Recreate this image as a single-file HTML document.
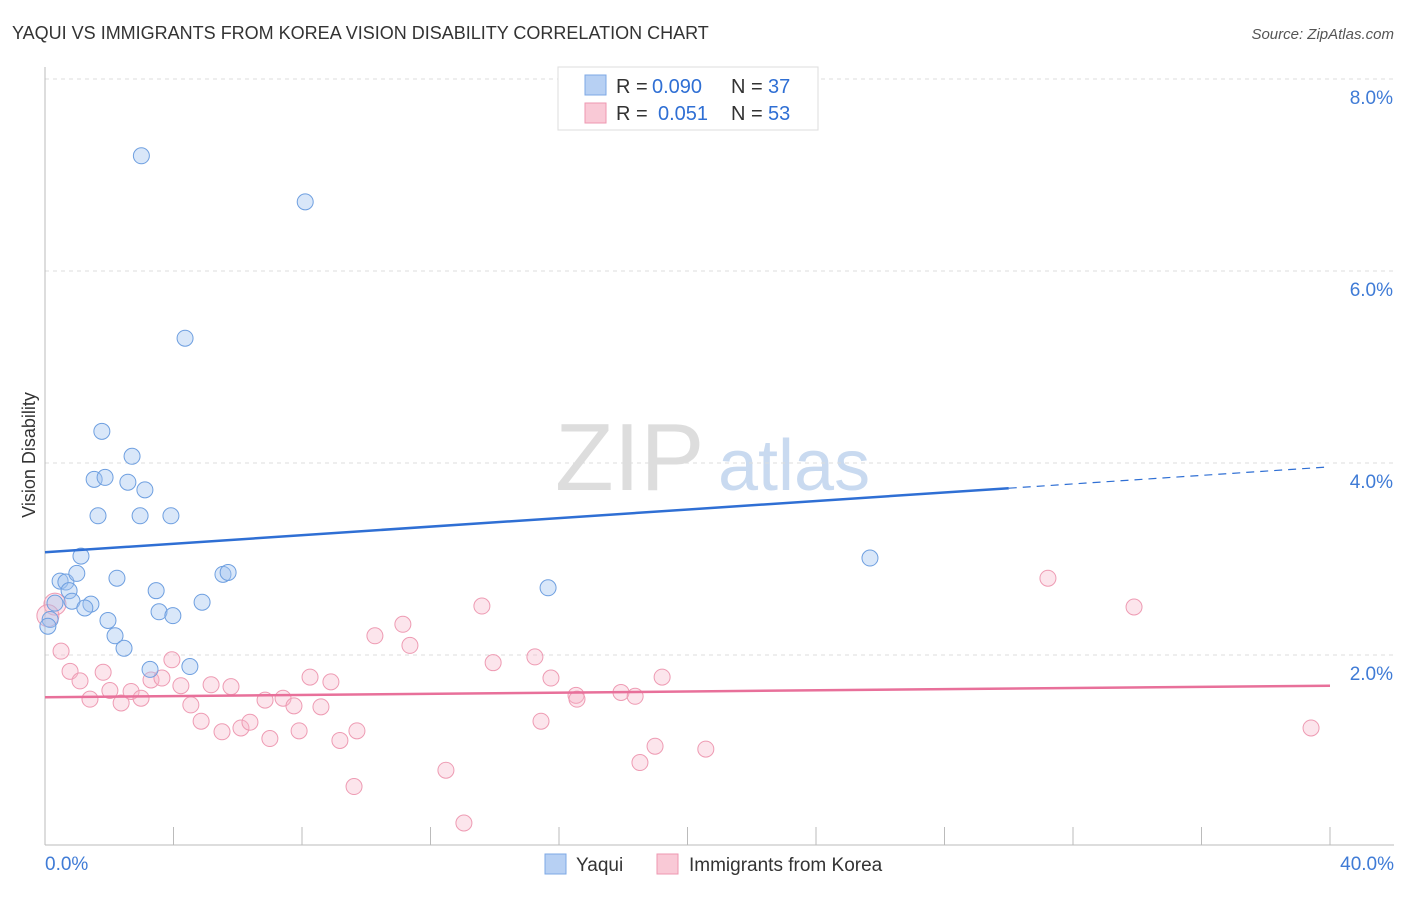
<!DOCTYPE html>
<html><head><meta charset="utf-8"><style>
body{margin:0;background:#fff;font-family:"Liberation Sans",sans-serif;}
svg text{font-family:"Liberation Sans",sans-serif;}
</style></head><body>
<svg id="c" width="1406" height="892" xmlns="http://www.w3.org/2000/svg">
<text x="12" y="39" font-size="18" fill="#333">YAQUI VS IMMIGRANTS FROM KOREA VISION DISABILITY CORRELATION CHART</text>
<text x="1394" y="39" font-size="15" fill="#555" font-style="italic" text-anchor="end">Source: ZipAtlas.com</text>
<text x="35" y="455" font-size="18" fill="#333" transform="rotate(-90 35 455)" text-anchor="middle">Vision Disability</text>
<text x="555" y="490" font-size="96" fill="#ddd" font-family="Liberation Serif">ZIP</text>
<text x="718" y="490" font-size="72" fill="#c9daf0">atlas</text>
<g id="grid"></g><g id="marks"></g>
<g>
<rect x="558" y="67" width="260" height="63" fill="#fff" stroke="#ddd"/>
<rect x="585" y="75" width="21" height="20" fill="#b7d0f3" stroke="#7ea8e6"/>
<rect x="585" y="103" width="21" height="20" fill="#f9c9d6" stroke="#ee97b0"/>
<text x="616" y="93" font-size="20" fill="#333">R =</text>
<text x="652" y="93" font-size="20" fill="#2f6fd4">0.090</text>
<text x="731" y="93" font-size="20" fill="#333">N =</text>
<text x="768" y="93" font-size="20" fill="#2f6fd4">37</text>
<text x="616" y="120" font-size="20" fill="#333">R =</text>
<text x="658" y="120" font-size="20" fill="#2f6fd4">0.051</text>
<text x="731" y="120" font-size="20" fill="#333">N =</text>
<text x="768" y="120" font-size="20" fill="#2f6fd4">53</text>
</g>
<g>
<rect x="545" y="854" width="21" height="20" fill="#b7d0f3" stroke="#7ea8e6"/>
<text x="576" y="871" font-size="19" fill="#333">Yaqui</text>
<rect x="657" y="854" width="21" height="20" fill="#f9c9d6" stroke="#ee97b0"/>
<text x="689" y="871" font-size="19" fill="#333">Immigrants from Korea</text>
</g>
</svg>
<script>
const yTicks=[2,4,6,8];
const xLabels=["0.0%","40.0%"];
const yaquiX=[3.0,8.1,4.36,1.77,2.71,1.53,1.87,2.58,3.11,1.65,2.96,3.92,1.12,0.47,0.65,0.99,0.75,2.24,3.46,5.54,5.7,0.31,0.84,1.43,0.16,1.24,1.96,3.55,3.98,4.89,2.18,2.46,3.27,4.51,15.66,25.68,0.09];
const yaquiY=[7.2,6.72,5.3,4.33,4.07,3.83,3.85,3.8,3.72,3.45,3.45,3.45,3.03,2.77,2.76,2.85,2.67,2.8,2.67,2.84,2.86,2.54,2.56,2.53,2.37,2.49,2.36,2.45,2.41,2.55,2.2,2.07,1.85,1.88,2.7,3.01,2.3];
const koreaX=[0.31,0.09,0.5,0.78,1.09,1.4,1.81,2.02,2.37,2.68,2.99,3.3,3.64,3.95,4.23,4.54,4.86,5.17,5.51,5.79,6.1,6.38,6.85,7.0,7.41,7.75,7.91,8.25,8.59,8.9,9.18,9.71,9.62,10.27,11.14,11.36,12.48,13.04,13.6,13.95,15.25,15.44,15.75,16.53,16.56,17.93,18.37,18.52,18.99,19.21,20.57,31.22,33.9,39.41];
const koreaY=[2.53,2.41,2.04,1.83,1.73,1.54,1.82,1.63,1.5,1.62,1.55,1.74,1.76,1.95,1.68,1.48,1.31,1.69,1.2,1.67,1.24,1.3,1.53,1.13,1.55,1.47,1.21,1.77,1.46,1.72,1.11,1.21,0.63,2.2,2.32,2.1,0.8,0.25,2.51,1.92,1.98,1.31,1.76,1.58,1.54,1.61,1.57,0.88,1.05,1.77,1.02,2.8,2.5,1.24];
const yaquiTrend=[3.07,3.96];
const koreaTrend=[1.56,1.68];
const NS="http://www.w3.org/2000/svg";
const X=v=>45+v*32.125, Y=v=>847-v*96;
function mk(t,a,p){const e=document.createElementNS(NS,t);for(const k in a)e.setAttribute(k,a[k]);p.appendChild(e);return e;}
const g=document.getElementById('grid'),m=document.getElementById('marks');
yTicks.forEach(t=>{const l=mk('line',{x1:45,x2:1394,y1:Y(t),y2:Y(t),stroke:'#ddd','stroke-dasharray':'4,4'},g);


const tx=mk('text',{x:1393,y:Y(t)+25,'font-size':19,fill:'#3f7bd6','text-anchor':'end'},g);tx.textContent=t.toFixed(1)+'%';

});
const ax=mk('line',{x1:45,x2:45,y1:67,y2:845,stroke:'#bbb'},g);


const bx=mk('line',{x1:45,x2:1394,y1:845,y2:845,stroke:'#bbb'},g);


for(let i=0;i<=40;i+=4){const t=mk('line',{x1:X(i),x2:X(i),y1:827,y2:845,stroke:'#bbb'},g);

}
[[0,'start',45],[40,'end',1394]].forEach((d,i)=>{const t=mk('text',{x:d[2],y:870,'font-size':19,fill:'#3f7bd6','text-anchor':d[1]},g);t.textContent=xLabels[i];

});
koreaX.forEach((x,i)=>{const c=mk('circle',{cx:X(x),cy:Y(koreaY[i]),r:i<2?11:8,fill:'rgba(247,180,200,0.35)',stroke:'#ee9bb3','stroke-width':1},m);

});
yaquiX.forEach((x,i)=>{const c=mk('circle',{cx:X(x),cy:Y(yaquiY[i]),r:8,fill:'rgba(160,195,240,0.4)',stroke:'#6e9fe0','stroke-width':1},m);

});
const yv=t=>yaquiTrend[0]+(yaquiTrend[1]-yaquiTrend[0])*t/40;
const l1=mk('line',{x1:X(0),y1:Y(yv(0)),x2:X(30),y2:Y(yv(30)),stroke:'#2f6fd4','stroke-width':2.5},m);


const l2=mk('line',{x1:X(30),y1:Y(yv(30)),x2:X(40),y2:Y(yv(40)),stroke:'#2f6fd4','stroke-width':1.2,'stroke-dasharray':'8,6'},m);


const l3=mk('line',{x1:X(0),y1:Y(koreaTrend[0]),x2:X(40),y2:Y(koreaTrend[1]),stroke:'#e8709a','stroke-width':2.5},m);


</script>
</body></html>
